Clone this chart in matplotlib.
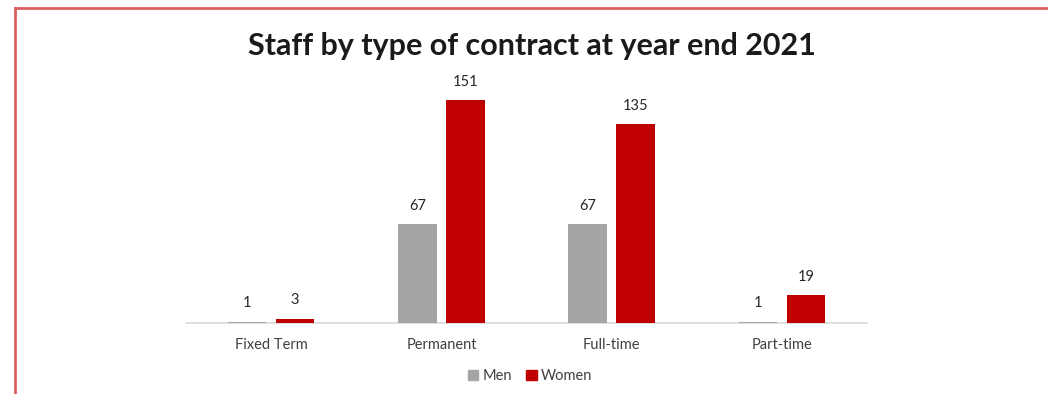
import matplotlib
matplotlib.use("Agg")
import matplotlib.pyplot as plt
from matplotlib.lines import Line2D
from matplotlib.patches import Patch
import numpy as np

categories = ["Fixed Term", "Permanent", "Full-time", "Part-time"]
men = [1, 67, 67, 1]
women = [3, 151, 135, 19]
series_names = ["Men", "Women"]
title = "Staff by type of contract at year end 2021"

plt.rcParams['font.family'] = ['Lato', 'DejaVu Sans']

fig = plt.figure(figsize=(10.48, 3.94), dpi=100)
ax = fig.add_axes([186/1048, 71/394, 681/1048, 236.3/394])

x = np.arange(len(categories))
w = 0.225
off = 0.141
gray = "#a5a5a5"
red = "#c00000"
b1 = ax.bar(x - off, men, w, color=gray, zorder=3)
b2 = ax.bar(x + off, women, w, color=red, zorder=3)
for bars, vals in ((b1, men), (b2, women)):
    for r, v in zip(bars, vals):
        ax.annotate(str(v), (r.get_x() + r.get_width()/2, v), xytext=(0, 8),
                    textcoords="offset points", ha="center", va="bottom",
                    fontsize=10.5, color="#262626")

ax.set_xlim(-0.5, 3.5)
ax.set_ylim(0, 160)
ax.set_yticks([])
for s in ["left", "right", "top"]:
    ax.spines[s].set_visible(False)
ax.spines["bottom"].set_color("#d9d9d9")
ax.spines["bottom"].set_linewidth(1.2)
ax.set_xticks(x)
ax.set_xticklabels(categories, fontsize=10.5, color="#404040")
ax.tick_params(axis="x", length=0, pad=11)

fig.text(532/1048, 1 - 46/394, title, ha="center", va="center",
         fontsize=22, fontweight="bold", color="#1a1a1a")

handles = [Patch(color=gray), Patch(color=red)]
fig.legend(handles, series_names, loc="center", bbox_to_anchor=(530/1048, 1 - 376/394),
           ncol=2, frameon=False, fontsize=10.5, handlelength=0.7, handleheight=0.7,
           handletextpad=0.3, columnspacing=1.0, labelcolor="#404040")

border = "#e06060"
fig.add_artist(Line2D([15/1048, 15/1048], [0, 1 - 8/394], color=border, lw=2,
                      transform=fig.transFigure))
fig.add_artist(Line2D([15/1048, 1], [1 - 8/394, 1 - 8/394], color=border, lw=2,
                      transform=fig.transFigure))

fig.savefig("out.png", dpi=100, facecolor="white")
